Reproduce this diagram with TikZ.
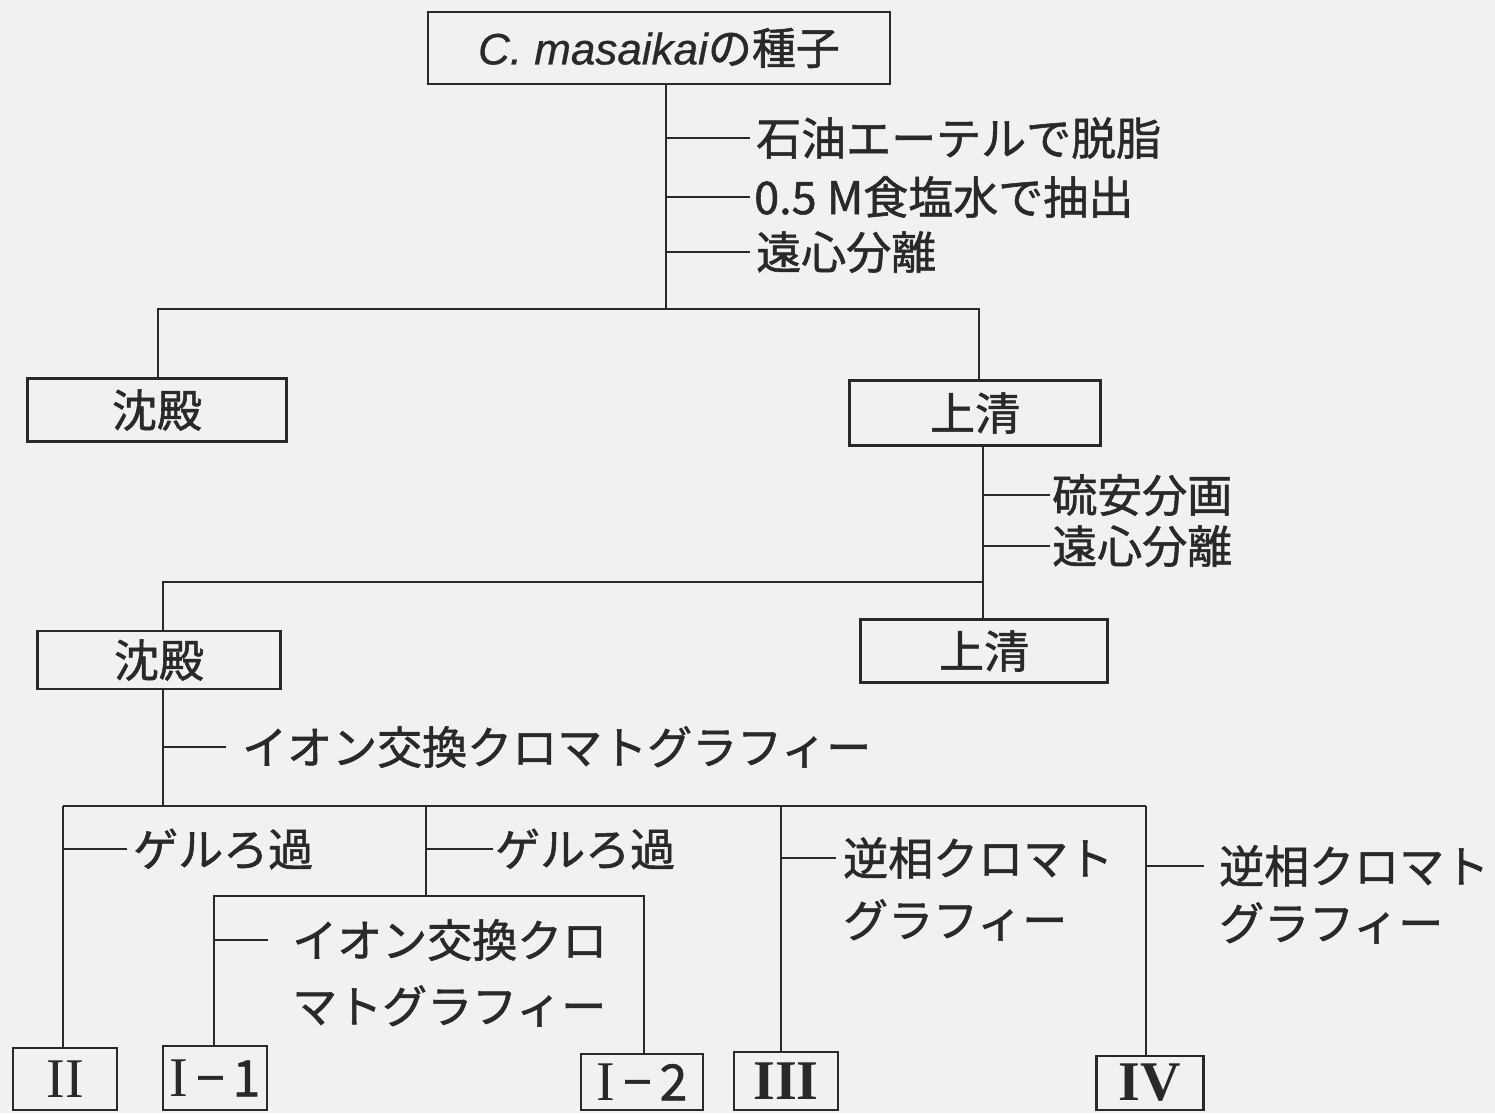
\documentclass[tikz,border=0pt]{standalone}
\usepackage{fontspec}
\setmainfont{Noto Sans CJK JP}[FakeBold=1.2]
\newfontfamily\latinit{Liberation Sans}[FakeBold=0.6]
\newfontfamily\romfont{Liberation Serif}
\definecolor{paper}{HTML}{F3F0F0}
\definecolor{ink}{HTML}{2B2829}
\begin{document}
\begin{tikzpicture}[x=1pt,y=-1pt,
  conn/.style={draw=ink,line width=2.4pt},
  box/.style={draw=ink,line width=2.6pt,inner sep=0pt,text=ink,font=\fontsize{45}{54}\selectfont},
  lbl/.style={anchor=west,inner ysep=0pt,text height=39.6pt,text depth=5.4pt,text=ink,font=\fontsize{45}{54}\selectfont},
  rom/.style={box,font=\fontsize{56}{60}\romfont}]
\fill[paper] (0,0) rectangle (1495,1113);
\useasboundingbox (0,0) rectangle (1495,1113);

% boxes
\node[box,minimum width=462pt,minimum height=72pt,font=\fontsize{44}{50}\selectfont] (top) at (659,48) {{\latinit\itshape C. masaikai}の種子};
\node[box,minimum width=259pt,minimum height=63pt] (pre1) at (157,410) {沈殿};
\node[box,minimum width=251pt,minimum height=65pt] (sup1) at (975,413) {上清};
\node[box,minimum width=243pt,minimum height=58pt] (pre2) at (159,660) {沈殿};
\node[box,minimum width=247pt,minimum height=63pt] (sup2) at (984,651) {上清};
\node[rom,minimum width=104pt,minimum height=62pt] (r2) at (65,1079) {II};
\node[rom,minimum width=104pt,minimum height=64pt] (r11) at (215,1078) {I{\rmfamily\fontsize{50}{56}\selectfont\,−\,1}};
\node[rom,minimum width=122pt,minimum height=56pt] (r12) at (642,1082) {I{\rmfamily\fontsize{50}{56}\selectfont\,−\,2}};
\node[rom,minimum width=104pt,minimum height=58pt,font=\fontsize{56}{60}\romfont\bfseries] (r3) at (786,1081) {III};
\node[rom,minimum width=107pt,minimum height=54pt,font=\fontsize{56}{60}\romfont\bfseries] (r4) at (1150,1083) {IV};

% junctions
\coordinate (j1) at (666,309);
\coordinate (j2) at (983,582);
\coordinate (j3) at (163,806);
\coordinate (t1) at (63,806);
\coordinate (t2) at (426,806);
\coordinate (t3) at (781,806);
\coordinate (t4) at (1146,806);
\coordinate (j4) at (426,896);

% labels
\node[lbl,inner xsep=6pt] (a1) at (750,138) {石油エーテルで脱脂};
\node[lbl,inner xsep=4pt] (a2) at (750,197) {0.5 M食塩水で抽出};
\node[lbl,inner xsep=6pt] (a3) at (750,252) {遠心分離};
\node[lbl,inner xsep=2pt] (b1) at (1050,495) {硫安分画};
\node[lbl,inner xsep=2pt] (b2) at (1050,546) {遠心分離};
\node[lbl,inner xsep=16pt] (c1) at (226,747) {イオン交換クロマトグラフィー};
\node[lbl,inner xsep=6pt] (d1) at (127,849) {ゲルろ過};
\node[lbl,inner xsep=2pt] (d2) at (493,849) {ゲルろ過};
\node[lbl,inner xsep=24pt] (e1) at (268,940) {イオン交換クロ};
\node[lbl,inner xsep=0pt] (e2) at (e1.west |- 0,1006) {\hspace{24pt}マトグラフィー};
\node[lbl,inner xsep=7pt] (f1) at (836,858) {逆相クロマト};
\node[lbl,inner xsep=0pt] (f2) at (f1.west |- 0,920) {\hspace{7pt}グラフィー};
\node[lbl,inner xsep=15pt] (g1) at (1204,866) {逆相クロマト};
\node[lbl,inner xsep=0pt] (g2) at (g1.west |- 0,923) {\hspace{15pt}グラフィー};

% connectors
\draw[conn] (top.south -| j1) -- (j1);
\draw[conn] (pre1.north -| 158,0) |- (j1) -| (sup1.north -| 979,0);
\draw[conn] (a1.west -| j1) -- (a1.west);
\draw[conn] (a2.west -| j1) -- (a2.west);
\draw[conn] (a3.west -| j1) -- (a3.west);

\draw[conn] (sup1.south -| j2) -- (sup2.north -| j2);
\draw[conn] (b1.west -| j2) -- (b1.west);
\draw[conn] (b2.west -| j2) -- (b2.west);
\draw[conn] (j2) -| (pre2.north -| j3);

\draw[conn] (pre2.south -| j3) -- (j3);
\draw[conn] (c1.west -| j3) -- (c1.west);
\draw[conn] (t1) -- (t4);

\draw[conn] (t1) -- (r2.north -| t1);
\draw[conn] (d1.west -| t1) -- (d1.west);

\draw[conn] (t2) -- (j4);
\draw[conn] (d2.west -| t2) -- (d2.west);
\draw[conn] (r11.north -| 214,0) |- (j4) -| (r12.north -| 644,0);
\draw[conn] (e1.west -| 214,0) -- (e1.west);

\draw[conn] (t3) -- (r3.north -| t3);
\draw[conn] (f1.west -| t3) -- (f1.west);

\draw[conn] (t4) -- (r4.north -| t4);
\draw[conn] (g1.west -| t4) -- (g1.west);
\end{tikzpicture}
\end{document}
